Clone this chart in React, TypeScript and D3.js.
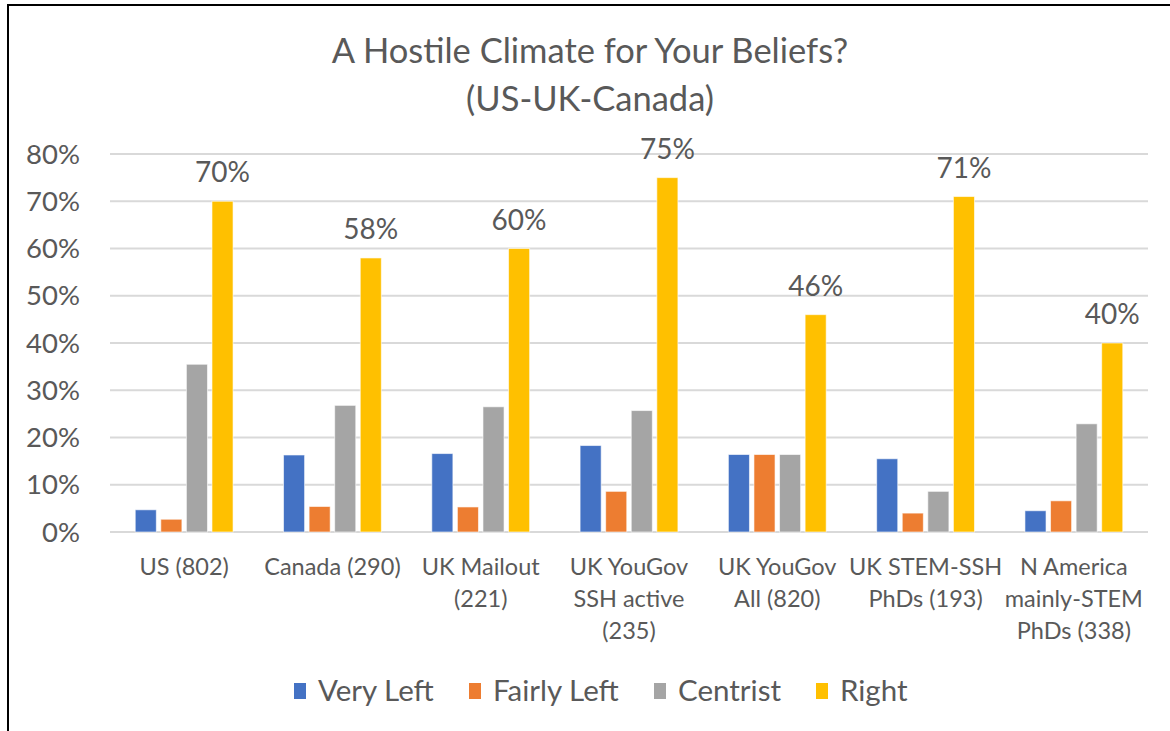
import React from "react";
import * as d3 from "d3";

// Survey groups (x axis), wrapped into lines as shown under each group
const categories = [
  "US (802)",
  "Canada (290)",
  "UK Mailout (221)",
  "UK YouGov SSH active (235)",
  "UK YouGov All (820)",
  "UK STEM-SSH PhDs (193)",
  "N America mainly-STEM PhDs (338)",
];
const categoryLines = [
  ["US (802)"],
  ["Canada (290)"],
  ["UK Mailout", "(221)"],
  ["UK YouGov", "SSH active", "(235)"],
  ["UK YouGov", "All (820)"],
  ["UK STEM-SSH", "PhDs (193)"],
  ["N America", "mainly-STEM", "PhDs (338)"],
];

const seriesNames = ["Very Left", "Fairly Left", "Centrist", "Right"];
const seriesColors = ["#4472C4", "#ED7D31", "#A5A5A5", "#FFC000"];

// Percent reporting a hostile climate, per political leaning
const veryLeft = [4.7, 16.3, 16.6, 18.3, 16.4, 15.5, 4.5];
const fairlyLeft = [2.7, 5.4, 5.3, 8.6, 16.4, 4.0, 6.6];
const centrist = [35.5, 26.8, 26.5, 25.7, 16.4, 8.6, 22.9];
const right = [70, 58, 60, 75, 46, 71, 40];

const yTicks = [0, 10, 20, 30, 40, 50, 60, 70, 80];

const W = 1170;
const H = 731;
const FONT = "Lato, 'Open Sans', sans-serif";
const TEXT = "#595959";

export default function App() {
  const series = [veryLeft, fairlyLeft, centrist, right];

  const plotLeft = 110;
  const plotRight = 1148;
  const x = d3
    .scaleBand<string>()
    .domain(categories)
    .range([plotLeft, plotRight])
    .paddingInner(0.31)
    .paddingOuter(0.155);
  const y = d3.scaleLinear().domain([0, 80]).range([532, 154]);

  const step = x.bandwidth() / 4;
  const barW = step - 4.5;

  const legendX = [294, 469, 654, 816];

  return (
    <svg
      width={W}
      height={H}
      style={{ position: "absolute", left: 0, top: 0, background: "#fff" }}
      fontFamily={FONT}
    >
      <rect x={0} y={0} width={W} height={H} fill="#fff" />
      {/* chart frame */}
      <line x1={8} y1={5} x2={W} y2={5} stroke="#000" strokeWidth={2} />
      <line x1={8} y1={4} x2={8} y2={H} stroke="#000" strokeWidth={2} />

      {/* title */}
      <text x={590} y={63} textAnchor="middle" fontSize={34.5} fill={TEXT}>
        A Hostile Climate for Your Beliefs?
      </text>
      <text x={590} y={111} textAnchor="middle" fontSize={34.5} fill={TEXT}>
        (US-UK-Canada)
      </text>

      {/* gridlines and y ticks */}
      {yTicks.map((t) => (
        <g key={t}>
          <line
            x1={plotLeft}
            x2={plotRight}
            y1={y(t)}
            y2={y(t)}
            stroke="#D9D9D9"
            strokeWidth={2}
          />
          <text
            x={80}
            y={y(t) + 9.5}
            textAnchor="end"
            fontSize={27.5}
            fill={TEXT}
          >
            {t}%
          </text>
        </g>
      ))}

      {/* bars */}
      {categories.map((c, ci) => (
        <g key={c}>
          {series.map((vals, si) => {
            const bx = (x(c) as number) + si * step + (step - barW) / 2;
            return (
              <rect
                key={si}
                x={bx}
                y={y(vals[ci])}
                width={barW}
                height={y(0) - y(vals[ci])}
                fill={seriesColors[si]}
                stroke="#fff"
                strokeOpacity={0.6}
                strokeWidth={1}
              />
            );
          })}
          {/* value label above the Right bar */}
          <text
            x={(x(c) as number) + 3 * step + step / 2}
            y={y(right[ci]) - 19}
            textAnchor="middle"
            fontSize={28}
            fill={TEXT}
          >
            {right[ci]}%
          </text>
          {/* category label */}
          {categoryLines[ci].map((ln, li) => (
            <text
              key={li}
              x={(x(c) as number) + x.bandwidth() / 2}
              y={575 + li * 32}
              textAnchor="middle"
              fontSize={23.5}
              fill={TEXT}
            >
              {ln}
            </text>
          ))}
        </g>
      ))}

      {/* legend */}
      {seriesNames.map((n, i) => (
        <g key={n}>
          <rect
            x={legendX[i]}
            y={683}
            width={12}
            height={16}
            fill={seriesColors[i]}
          />
          <text x={legendX[i] + 24} y={701} fontSize={29.5} fill={TEXT}>
            {n}
          </text>
        </g>
      ))}
    </svg>
  );
}
